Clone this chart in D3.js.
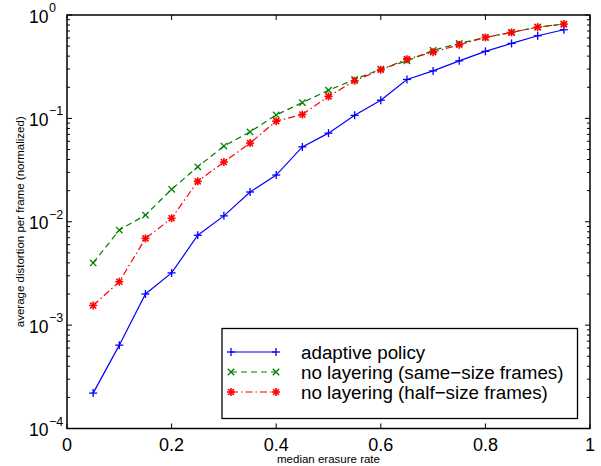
<!DOCTYPE html>
<html>
<head>
<meta charset="utf-8">
<script src="https://cdn.jsdelivr.net/npm/d3@7"></script>
<style>
  html, body { margin: 0; padding: 0; background: #fff; }
  svg { display: block; font-family: "Liberation Sans", Arial, Helvetica, sans-serif; }
</style>
</head>
<body>
<svg id="chart" width="601" height="466"></svg>
<script>
// Median erasure rate (x) for every series
const erasureRate = [0.05, 0.10, 0.15, 0.20, 0.25, 0.30, 0.35, 0.40, 0.45, 0.50,
                     0.55, 0.60, 0.65, 0.70, 0.75, 0.80, 0.85, 0.90, 0.95];

// Average distortion per frame (normalized)
const adaptivePolicy = [2.2e-4, 6.4e-4, 2.0e-3, 3.2e-3, 7.4e-3, 1.14e-2, 1.94e-2, 2.83e-2, 5.3e-2, 7.2e-2,
                        0.107, 0.150, 0.238, 0.288, 0.36, 0.445, 0.531, 0.63, 0.72];
const sameSizeFrames = [4.0e-3, 8.3e-3, 1.16e-2, 2.06e-2, 3.4e-2, 5.4e-2, 7.4e-2, 0.108, 0.142, 0.187,
                        0.238, 0.300, 0.360, 0.455, 0.531, 0.607, 0.679, 0.764, 0.817];
const halfSizeFrames = [1.55e-3, 2.63e-3, 6.9e-3, 1.08e-2, 2.46e-2, 3.78e-2, 5.77e-2, 9.4e-2, 0.109, 0.163,
                        0.231, 0.295, 0.374, 0.437, 0.515, 0.607, 0.679, 0.764, 0.817];

const seriesNames = ["adaptive policy", "no layering (same\u2212size frames)", "no layering (half\u2212size frames)"];
const xTicks = [0, 0.2, 0.4, 0.6, 0.8, 1];
const xTickLabels = ["0", "0.2", "0.4", "0.6", "0.8", "1"];
const yExponents = [0, -1, -2, -3, -4];

const series = [
  { name: seriesNames[0], values: adaptivePolicy, color: "#0000ff", dash: null, marker: "plus" },
  { name: seriesNames[1], values: sameSizeFrames, color: "#008000", dash: "6,4", marker: "cross" },
  { name: seriesNames[2], values: halfSizeFrames, color: "#ff0000", dash: "7,3,1.5,3", marker: "star" }
];

const svg = d3.select("#chart");
const L = 67, R = 590, T = 15, B = 428.5;

const x = d3.scaleLinear().domain([0, 1]).range([L, R]);
const y = d3.scaleLog().domain([1e-4, 1]).range([B, T]);

// Markers
function drawMarker(g, type, cx, cy, color) {
  const s = type === "cross" ? 3.2 : 4;
  const segs = [];
  if (type === "plus" || type === "star") {
    segs.push([-s, 0, s, 0], [0, -s, 0, s]);
  }
  if (type === "cross" || type === "star") {
    const d = type === "star" ? s * 0.75 : s;
    segs.push([-d, -d, d, d], [-d, d, d, -d]);
  }
  segs.forEach(p => {
    g.append("line")
      .attr("x1", cx + p[0]).attr("y1", cy + p[1])
      .attr("x2", cx + p[2]).attr("y2", cy + p[3])
      .attr("stroke", color).attr("stroke-width", type === "star" ? 1.6 : 1.3);
  });
}

// Series lines and markers
const line = d3.line().x((d, i) => x(erasureRate[i])).y(d => y(d));
series.forEach(s => {
  const g = svg.append("g");
  g.append("path")
    .datum(s.values)
    .attr("d", line)
    .attr("fill", "none")
    .attr("stroke", s.color)
    .attr("stroke-width", 1.2)
    .attr("stroke-dasharray", s.dash);
  s.values.forEach((v, i) => drawMarker(g, s.marker, x(erasureRate[i]), y(v), s.color));
});

// Frame
const axisColor = "#000";
svg.append("rect")
  .attr("x", L).attr("y", T).attr("width", R - L).attr("height", B - T)
  .attr("fill", "none").attr("stroke", axisColor).attr("stroke-width", 1.5);

// X ticks on bottom and top
xTicks.forEach((t, i) => {
  const px = x(t);
  svg.append("line").attr("x1", px).attr("x2", px).attr("y1", B).attr("y2", B - 5)
    .attr("stroke", axisColor).attr("stroke-width", 1);
  svg.append("line").attr("x1", px).attr("x2", px).attr("y1", T).attr("y2", T + 5)
    .attr("stroke", axisColor).attr("stroke-width", 1);
  svg.append("text")
    .attr("x", px).attr("y", B + 22)
    .attr("text-anchor", "middle")
    .attr("font-size", 18)
    .text(xTickLabels[i]);
});

// Y ticks (major + minor) on left and right
const yTickVals = [];
for (let e = -4; e < 0; e++) {
  for (let m = 1; m < 10; m++) yTickVals.push({ v: m * Math.pow(10, e), major: m === 1 });
}
yTickVals.push({ v: 1, major: true });
yTickVals.forEach(t => {
  const py = y(t.v);
  const len = t.major ? 5 : 3;
  svg.append("line").attr("x1", L).attr("x2", L + len).attr("y1", py).attr("y2", py)
    .attr("stroke", axisColor).attr("stroke-width", 1);
  svg.append("line").attr("x1", R).attr("x2", R - len).attr("y1", py).attr("y2", py)
    .attr("stroke", axisColor).attr("stroke-width", 1);
});

yExponents.forEach(e => {
  const py = y(Math.pow(10, e));
  svg.append("text")
    .attr("x", 48.5).attr("y", py + 7.5)
    .attr("text-anchor", "end")
    .attr("font-size", 17.5)
    .text("10");
  svg.append("text")
    .attr("x", 49).attr("y", py - 3)
    .attr("text-anchor", "start")
    .attr("font-size", 12.5)
    .text(e === 0 ? "0" : "\u2212" + Math.abs(e));
});

// Axis titles
svg.append("text")
  .attr("x", (L + R) / 2).attr("y", 463)
  .attr("text-anchor", "middle")
  .attr("font-size", 11.5)
  .text("median erasure rate");

svg.append("text")
  .attr("transform", `translate(24,${(T + B) / 2}) rotate(-90)`)
  .attr("text-anchor", "middle")
  .attr("font-size", 11.5)
  .text("average distortion per frame (normalized)");

// Legend
const lg = svg.append("g");
lg.append("rect")
  .attr("x", 222).attr("y", 328.5).attr("width", 355.5).attr("height", 90)
  .attr("fill", "#fff").attr("stroke", axisColor).attr("stroke-width", 1.3);
series.forEach((s, i) => {
  const ly = 352 + i * 20;
  lg.append("line")
    .attr("x1", 231).attr("x2", 276).attr("y1", ly).attr("y2", ly)
    .attr("stroke", s.color).attr("stroke-width", 1.2)
    .attr("stroke-dasharray", s.dash);
  drawMarker(lg, s.marker, 231, ly, s.color);
  drawMarker(lg, s.marker, 276, ly, s.color);
  lg.append("text")
    .attr("x", 301).attr("y", ly + 6.5)
    .attr("font-size", 18.8)
    .text(s.name);
});
</script>
</body>
</html>
